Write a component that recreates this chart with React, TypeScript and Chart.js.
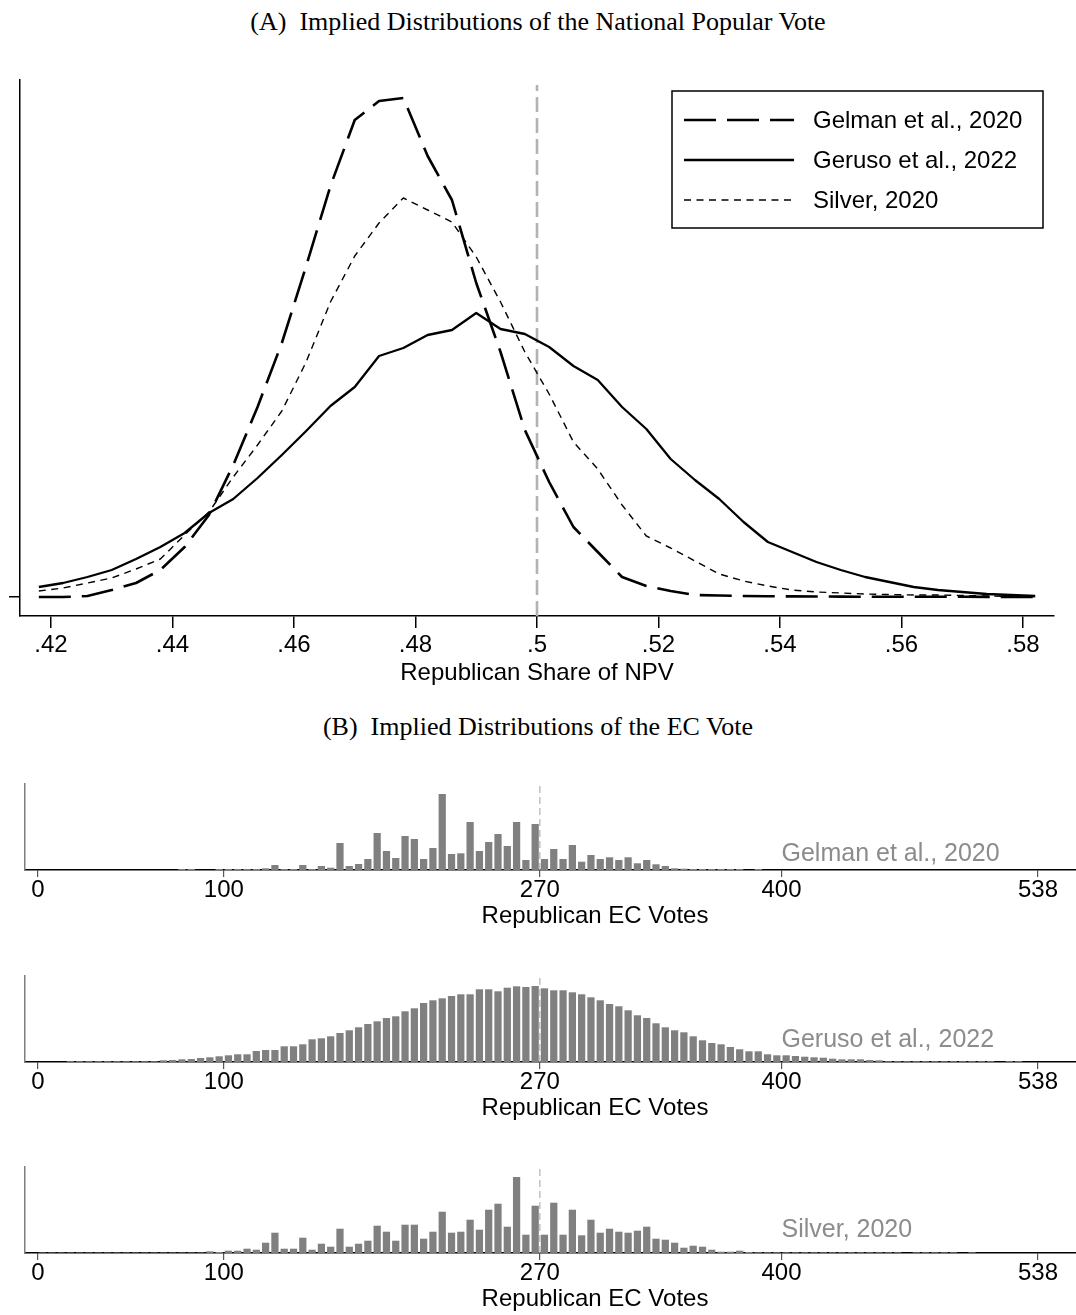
import React, { useEffect, useRef } from 'react';
import { Chart, registerables } from 'chart.js';

Chart.register(...registerables);

const SANS = "'Liberation Sans', Arial, Helvetica, sans-serif";
const SERIF = "'Liberation Serif', 'Times New Roman', serif";
Chart.defaults.font.family = SANS;
Chart.defaults.color = '#000';

// ---------- Panel A: national popular vote ----------
const SERIES_NAMES = ['Gelman et al., 2020', 'Geruso et al., 2022', 'Silver, 2020'];

const NPV_SHARE = [
  0.418, 0.422, 0.426, 0.430, 0.434, 0.438, 0.442, 0.446, 0.450, 0.454,
  0.458, 0.462, 0.466, 0.470, 0.474, 0.478, 0.482, 0.486, 0.490, 0.494,
  0.498, 0.502, 0.506, 0.510, 0.514, 0.518, 0.522, 0.526, 0.530, 0.534,
  0.538, 0.542, 0.546, 0.550, 0.554, 0.558, 0.562, 0.566, 0.570, 0.574,
  0.578, 0.582,
];

const GELMAN_NPV = [
  0.0, 0.0, 0.1, 0.7, 1.4, 2.7, 5.0, 8.2, 13.2, 19.0,
  25.4, 33.1, 41.1, 47.7, 49.6, 49.9, 44.1, 39.7, 31.4, 24.5,
  16.7, 11.5, 7.0, 4.5, 2.0, 1.1, 0.6, 0.2, 0.15, 0.1,
  0.08, 0.06, 0.05, 0.04, 0.03, 0.03, 0.02, 0.02, 0.02, 0.01,
  0.01, 0.01,
];

const GERUSO_NPV = [
  1.0, 1.4, 2.0, 2.7, 3.8, 5.0, 6.4, 8.4, 9.8, 11.9,
  14.2, 16.6, 19.1, 21.0, 24.1, 24.9, 26.2, 26.7, 28.4, 26.8,
  26.3, 25.0, 23.1, 21.7, 19.0, 16.8, 13.8, 11.7, 9.8, 7.5,
  5.5, 4.5, 3.5, 2.7, 2.0, 1.5, 1.0, 0.7, 0.5, 0.3,
  0.2, 0.1,
];

const SILVER_NPV = [
  0.6, 0.9, 1.4, 1.9, 2.8, 3.8, 6.2, 8.5, 12.0, 15.2,
  18.6, 23.5, 29.5, 34.1, 37.4, 39.9, 38.7, 37.5, 34.0, 29.5,
  24.5, 20.3, 15.5, 12.8, 9.2, 6.1, 4.9, 3.6, 2.3, 1.6,
  1.1, 0.7, 0.5, 0.4, 0.3, 0.25, 0.2, 0.2, 0.15, 0.1,
  0.05, 0.05,
];

const NPV_TICKS = [0.42, 0.44, 0.46, 0.48, 0.5, 0.52, 0.54, 0.56, 0.58];
const NPV_CUTOFF = 0.5;

// ---------- Panel B: electoral college ----------
const EC_BIN_CENTERS = [
  2.5, 7.5, 12.5, 17.5, 22.5, 27.5, 32.5, 37.5, 42.5, 47.5,
  52.5, 57.5, 62.5, 67.5, 72.5, 77.5, 82.5, 87.5, 92.5, 97.5,
  102.5, 107.5, 112.5, 117.5, 122.5, 127.5, 132.5, 137.5, 142.5, 147.5,
  152.5, 157.5, 162.5, 167.5, 172.5, 177.5, 182.5, 187.5, 192.5, 197.5,
  202.5, 207.5, 212.5, 217.5, 222.5, 227.5, 232.5, 237.5, 242.5, 247.5,
  252.5, 257.5, 262.5, 267.5, 272.5, 277.5, 282.5, 287.5, 292.5, 297.5,
  302.5, 307.5, 312.5, 317.5, 322.5, 327.5, 332.5, 337.5, 342.5, 347.5,
  352.5, 357.5, 362.5, 367.5, 372.5, 377.5, 382.5, 387.5, 392.5, 397.5,
  402.5, 407.5, 412.5, 417.5, 422.5, 427.5, 432.5, 437.5, 442.5, 447.5,
  452.5, 457.5, 462.5, 467.5, 472.5, 477.5, 482.5, 487.5, 492.5, 497.5,
  502.5, 507.5, 512.5, 517.5, 522.5, 527.5, 532.5, 537.5,
];

const GELMAN_EC = [
  0, 0, 0, 0, 0, 0, 0, 0, 0, 0,
  0, 0, 0, 0, 0, 0.1, 0.1, 0, 0, 0.1,
  0.1, 0.1, 0.1, 0.1, 0.17, 0.5, 0.1, 0.1, 0.5, 0.1,
  0.4, 0.23, 2.7, 0.4, 0.6, 1.1, 3.7, 1.9, 1.2, 3.4,
  3.1, 1.1, 2.2, 7.6, 1.6, 1.67, 4.8, 1.9, 2.8, 3.6,
  2.4, 4.8, 1.0, 4.6, 1.1, 2.1, 1.1, 2.5, 0.83, 1.5,
  1.1, 1.27, 1.0, 1.27, 0.67, 1.0, 0.57, 0.4, 0.17, 0.13,
  0.1, 0.1, 0.1, 0.1, 0.1, 0.1, 0, 0.1, 0, 0,
  0, 0, 0, 0, 0, 0, 0, 0, 0, 0,
  0, 0, 0, 0, 0, 0, 0, 0, 0, 0,
  0, 0, 0, 0, 0, 0, 0, 0,
];

const GERUSO_EC = [
  0, 0, 0, 0.08, 0.08, 0.08, 0.08, 0.08, 0.08, 0.08,
  0.08, 0.08, 0.08, 0.17, 0.2, 0.27, 0.3, 0.4, 0.47, 0.57,
  0.67, 0.77, 0.77, 1.1, 1.2, 1.2, 1.57, 1.57, 1.77, 2.27,
  2.37, 2.57, 2.9, 3.17, 3.47, 3.8, 4.07, 4.4, 4.57, 5.07,
  5.37, 5.9, 6.17, 6.37, 6.6, 6.77, 6.77, 7.27, 7.27, 7.07,
  7.43, 7.57, 7.5, 7.6, 7.37, 7.17, 7.17, 6.97, 6.77, 6.47,
  6.17, 5.8, 5.57, 5.17, 4.67, 4.4, 3.87, 3.47, 3.17, 2.97,
  2.57, 2.17, 1.9, 1.77, 1.5, 1.27, 1.07, 1.07, 0.77, 0.67,
  0.67, 0.6, 0.53, 0.47, 0.43, 0.33, 0.27, 0.27, 0.27, 0.2,
  0.17, 0.08, 0.08, 0.08, 0.08, 0.08, 0.08, 0.08, 0.08, 0.08,
  0.08, 0.08, 0.08, 0, 0.08, 0.08, 0, 0,
];

const SILVER_EC = [
  0.05, 0.05, 0.05, 0.05, 0.05, 0.05, 0.05, 0.05, 0.05, 0.05,
  0.05, 0.05, 0.05, 0.05, 0.05, 0.05, 0.05, 0.05, 0.17, 0.1,
  0.23, 0.23, 0.43, 0.33, 1.03, 2.03, 0.43, 0.43, 1.53, 0.33,
  0.93, 0.63, 2.43, 0.63, 0.93, 1.23, 2.73, 2.13, 1.23, 2.83,
  2.83, 1.43, 2.13, 4.13, 2.03, 2.13, 3.33, 2.33, 4.33, 4.93,
  2.63, 7.6, 1.83, 4.73, 1.83, 5.03, 1.83, 4.33, 1.77, 3.33,
  2.03, 2.43, 2.13, 2.03, 2.23, 2.63, 1.43, 1.33, 1.03, 0.53,
  0.73, 0.63, 0.33, 0.13, 0.13, 0.23, 0.1, 0.07, 0.07, 0.07,
  0.07, 0.07, 0.07, 0.07, 0.07, 0.07, 0.07, 0.07, 0.07, 0.07,
  0.07, 0.07, 0.07, 0, 0.07, 0.07, 0.07, 0.07, 0.07, 0,
  0.07, 0, 0, 0, 0, 0, 0, 0,
];

const EC_TICKS = [0, 100, 270, 400, 538];
const EC_CUTOFF = 270;

// ---------- plugins ----------
const boxLegendPlugin = {
  id: 'boxLegend',
  afterDraw(chart: any, _args: any, opts: any) {
    const { ctx, chartArea } = chart;
    const items = chart.data.datasets.filter((d: any) => d.inLegend);
    const left = chartArea.right - opts.marginRight - opts.width;
    const top = chartArea.top + opts.marginTop;
    const height = opts.padTop + opts.rowGap * (items.length - 1) + opts.padBottom;
    ctx.save();
    ctx.fillStyle = '#fff';
    ctx.fillRect(left, top, opts.width, height);
    ctx.setLineDash([]);
    ctx.lineWidth = 1.5;
    ctx.strokeStyle = '#000';
    ctx.strokeRect(left, top, opts.width, height);
    items.forEach((d: any, i: number) => {
      const y = top + opts.padTop + i * opts.rowGap;
      ctx.beginPath();
      ctx.setLineDash(d.borderDash || []);
      ctx.lineWidth = d.borderWidth;
      ctx.strokeStyle = d.borderColor;
      ctx.lineCap = 'butt';
      ctx.moveTo(left + opts.sampleStart, y);
      ctx.lineTo(left + opts.sampleStart + opts.sampleLength, y);
      ctx.stroke();
      ctx.setLineDash([]);
      ctx.fillStyle = '#000';
      ctx.font = `${opts.fontSize}px ${SANS}`;
      ctx.textAlign = 'left';
      ctx.textBaseline = 'middle';
      ctx.fillText(d.label, left + opts.textStart, y + 1);
    });
    ctx.restore();
  },
};

const panelLabelPlugin = {
  id: 'panelLabel',
  afterDatasetsDraw(chart: any, _args: any, opts: any) {
    const { ctx, scales } = chart;
    const x = scales.x.getPixelForValue(opts.xValue);
    const y = scales.y.getPixelForValue(opts.yValue);
    ctx.save();
    ctx.font = `${opts.fontSize}px ${SANS}`;
    ctx.fillStyle = opts.color;
    ctx.textAlign = 'left';
    ctx.textBaseline = 'alphabetic';
    ctx.fillText(opts.text, x, y);
    ctx.restore();
  },
};

const fmtShare = (v: number) => {
  const s = String(Number(v.toFixed(2)));
  return s.startsWith('0') ? s.slice(1) : s;
};

const W = 1076;

function NpvChart() {
  const ref = useRef<HTMLCanvasElement>(null);
  useEffect(() => {
    const yMin = -1.9;
    const yMax = 51.7;
    const lineDs = (label: string, ys: number[], width: number, dash: number[]) => ({
      label,
      inLegend: true,
      data: NPV_SHARE.map((x, i) => ({ x, y: ys[i] })),
      borderColor: '#000',
      borderWidth: width,
      borderDash: dash,
      pointRadius: 0,
      tension: 0,
      fill: false,
      borderJoinStyle: 'round',
      order: 1,
    });
    const chart = new Chart(ref.current as HTMLCanvasElement, {
      type: 'line',
      data: {
        datasets: [
          lineDs(SERIES_NAMES[0], GELMAN_NPV, 2.6, [32, 11]),
          lineDs(SERIES_NAMES[1], GERUSO_NPV, 2.3, []),
          lineDs(SERIES_NAMES[2], SILVER_NPV, 1.4, [7, 5.5]),
          {
            label: 'cutoff',
            inLegend: false,
            data: [
              { x: NPV_CUTOFF, y: yMin },
              { x: NPV_CUTOFF, y: 51.2 },
            ],
            borderColor: '#b3b3b3',
            borderWidth: 2.6,
            borderDash: [15, 6],
            pointRadius: 0,
            fill: false,
            order: 10,
          } as any,
        ] as any,
      },
      options: {
        responsive: false,
        animation: false,
        devicePixelRatio: 1,
        events: [],
        layout: { padding: { left: 0, right: 22, top: 80, bottom: 0 } },
        plugins: {
          legend: { display: false },
          tooltip: { enabled: false },
          boxLegend: {
            marginRight: 11,
            marginTop: 11,
            width: 371,
            padTop: 29,
            rowGap: 40,
            padBottom: 28,
            sampleStart: 12,
            sampleLength: 110,
            textStart: 141,
            fontSize: 24,
          },
        } as any,
        scales: {
          x: {
            type: 'linear',
            min: 0.4149,
            max: 0.5851,
            afterFit: (s: any) => {
              s.height = 84;
            },
            afterBuildTicks: (s: any) => {
              s.ticks = NPV_TICKS.map((v) => ({ value: v }));
            },
            ticks: {
              callback: (v: any) => fmtShare(Number(v)),
              font: { size: 24, family: SANS, lineHeight: 1.2 },
              color: '#000',
              padding: 3,
              autoSkip: false,
              maxRotation: 0,
            },
            grid: { drawOnChartArea: false, drawTicks: true, tickLength: 12, color: '#000', lineWidth: 1.5 },
            border: { display: true, color: '#000', width: 1.5 },
            title: {
              display: true,
              text: 'Republican Share of NPV',
              font: { size: 24, family: SANS, lineHeight: 1.2 },
              color: '#000',
              padding: { top: 0, bottom: 12.6 },
            },
          },
          y: {
            type: 'linear',
            min: yMin,
            max: yMax,
            afterFit: (s: any) => {
              s.width = 20;
            },
            afterBuildTicks: (s: any) => {
              s.ticks = [{ value: 0 }];
            },
            ticks: { callback: () => '', padding: 0 },
            grid: { drawOnChartArea: false, drawTicks: true, tickLength: 11, color: '#000', lineWidth: 1.5 },
            border: { display: true, color: '#000', width: 1.5 },
          },
        },
      } as any,
      plugins: [boxLegendPlugin as any],
    });
    return () => chart.destroy();
  }, []);
  return (
    <canvas
      ref={ref}
      width={W}
      height={700}
      style={{ position: 'absolute', left: 0, top: 0, width: W, height: 700 }}
    />
  );
}

type PanelProps = { top: number; values: number[]; label: string; labelY: number };

// The EC axes run past the right page edge, so their centred title lands where the reference has it.
const EC_CANVAS_W = 1180;

function EcPanel({ top, values, label, labelY }: PanelProps) {
  const ref = useRef<HTMLCanvasElement>(null);
  const padTop = 25;
  const areaH = 86;
  const canvasH = 173;
  useEffect(() => {
    const yMax = 8.6;
    const chart = new Chart(ref.current as HTMLCanvasElement, {
      type: 'bar',
      data: {
        datasets: [
          {
            type: 'bar',
            label,
            data: EC_BIN_CENTERS.map((x, i) => ({ x, y: values[i] })),
            backgroundColor: '#808080',
            borderWidth: 0,
            barPercentage: 0.78,
            categoryPercentage: 1,
            order: 2,
          },
          {
            type: 'line',
            label: 'cutoff',
            data: [
              { x: EC_CUTOFF, y: 0 },
              { x: EC_CUTOFF, y: yMax },
            ],
            borderColor: '#bdbdbd',
            borderWidth: 1.4,
            borderDash: [7, 4],
            pointRadius: 0,
            fill: false,
            order: 1,
          },
        ] as any,
      },
      options: {
        responsive: false,
        animation: false,
        devicePixelRatio: 1,
        events: [],
        layout: { padding: { left: 0, right: 15, top: padTop, bottom: 0 } },
        plugins: {
          legend: { display: false },
          tooltip: { enabled: false },
          panelLabel: { text: label, xValue: 400, yValue: labelY, fontSize: 25, color: '#8c8c8c' },
        } as any,
        scales: {
          x: {
            type: 'linear',
            min: -6.94,
            max: 606.3,
            offset: false,
            afterFit: (s: any) => {
              s.height = canvasH - padTop - areaH;
            },
            afterBuildTicks: (s: any) => {
              s.ticks = EC_TICKS.map((v) => ({ value: v }));
            },
            ticks: {
              callback: (v: any) => String(v),
              font: { size: 24, family: SANS, lineHeight: 1.15 },
              color: '#000',
              padding: 0,
              autoSkip: false,
              maxRotation: 0,
            },
            grid: { offset: false, drawOnChartArea: false, drawTicks: true, tickLength: 7, color: '#555', lineWidth: 1.2 },
            border: { display: true, color: '#000', width: 1.5 },
            title: {
              display: true,
              text: 'Republican EC Votes',
              font: { size: 24, family: SANS, lineHeight: 1.2 },
              color: '#000',
              padding: { top: 0, bottom: 1.6 },
            },
          },
          y: {
            type: 'linear',
            min: 0,
            max: yMax,
            afterFit: (s: any) => {
              s.width = 25;
            },
            ticks: { display: false },
            grid: { display: false },
            border: { display: true, color: '#7f7f7f', width: 1.5 },
          },
        },
      } as any,
      plugins: [panelLabelPlugin as any],
    });
    return () => chart.destroy();
  }, []);
  return (
    <canvas
      ref={ref}
      width={EC_CANVAS_W}
      height={canvasH}
      style={{ position: 'absolute', left: 0, top: top - padTop, width: EC_CANVAS_W, height: canvasH }}
    />
  );
}

const titleStyle = (centerY: number): React.CSSProperties => ({
  position: 'absolute',
  left: 0,
  width: W,
  top: centerY - 16,
  height: 32,
  lineHeight: '32px',
  textAlign: 'center',
  fontFamily: SERIF,
  fontSize: 26,
  color: '#000',
  whiteSpace: 'pre',
});

export default function App() {
  return (
    <div
      style={{
        position: 'fixed',
        left: 0,
        top: 0,
        width: W,
        height: 1315,
        overflow: 'hidden',
        background: '#fff',
      }}
    >
      <div style={titleStyle(22)}>{'(A)  Implied Distributions of the National Popular Vote'}</div>
      <NpvChart />
      <div style={titleStyle(727)}>{'(B)  Implied Distributions of the EC Vote'}</div>
      <EcPanel top={784} values={GELMAN_EC} label={SERIES_NAMES[0]} labelY={0.93} />
      <EcPanel top={976} values={GERUSO_EC} label={SERIES_NAMES[1]} labelY={1.5} />
      <EcPanel top={1167} values={SILVER_EC} label={SERIES_NAMES[2]} labelY={1.6} />
    </div>
  );
}
